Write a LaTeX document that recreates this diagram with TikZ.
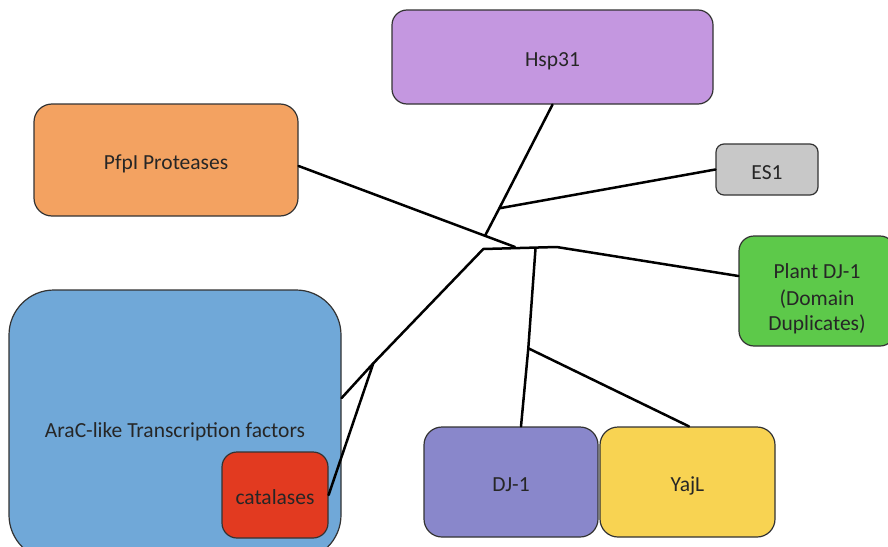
\documentclass[tikz,border=0pt]{standalone}
\usepackage{fontspec}
\setmainfont{Carlito}
\begin{document}
\begin{tikzpicture}[x=1pt,y=-1pt,
  box/.style={draw=black!80, line width=1.2pt, rectangle, inner sep=0pt,
    font=\fontsize{21.5}{25.5}\selectfont, text=black!85, align=center,
    text height=19.5pt, text depth=0pt},
  branch/.style={draw=black, line width=2.5pt, line cap=round, line join=round}]
\useasboundingbox (0,0) rectangle (888,546);
\clip (0,0) rectangle (888,546);
\fill[white] (0,0) rectangle (888,546);

% clade boxes
\node[box, fill={rgb,255:red,196;green,151;blue,224}, rounded corners=15pt,
  minimum width=321pt, minimum height=94pt] (hsp) at (552.5,57) {Hsp31};
\node[box, fill={rgb,255:red,243;green,162;blue,97}, rounded corners=18pt,
  minimum width=264pt, minimum height=112pt] (pfpi) at (166,160) {PfpI Proteases};
\node[box, fill={rgb,255:red,200;green,200;blue,200}, rounded corners=8pt,
  minimum width=102pt, minimum height=51pt] (es) at (767,169.5) {ES1};
\node[box, fill={rgb,255:red,93;green,201;blue,74}, rounded corners=15pt,
  minimum width=156pt, minimum height=110pt, text height=19.5pt, text depth=0pt,
  font=\fontsize{21.5}{25.5}\selectfont] (plant) at (817,291)
  {\raisebox{-4pt}{\begin{tabular}{@{}c@{}}Plant DJ-1\\[1.5pt](Domain\\Duplicates)\end{tabular}}};
\node[box, fill={rgb,255:red,112;green,168;blue,216}, rounded corners=45pt,
  minimum width=332pt, minimum height=270pt] (arac) at (175,425) {};
\node[font=\fontsize{21.5}{25.5}\selectfont, text=black!85, inner sep=0pt,
  text height=19.5pt, text depth=0pt] (aractext) at (175,428)
  {AraC-like Transcription factors};
\node[box, fill={rgb,255:red,226;green,58;blue,32}, rounded corners=15pt,
  minimum width=106pt, minimum height=86pt] (cat) at (275,495) {catalases};
\node[box, fill={rgb,255:red,137;green,135;blue,203}, rounded corners=18pt,
  minimum width=174pt, minimum height=110pt] (dj) at (511,482) {DJ-1};
\node[box, fill={rgb,255:red,248;green,211;blue,82}, rounded corners=18pt,
  minimum width=175pt, minimum height=110pt] (yajl) at (687.5,482) {YajL};

% internal nodes of the tree
\coordinate (jhsp) at (485,235.8);
\coordinate (jes) at (499.3,208.3);
\coordinate (jpf) at (515,247);
\coordinate (jl) at (483.3,249);
\coordinate (jdj) at (535.5,248.5);
\coordinate (jr) at (556.7,247);
\coordinate (jyaj) at (528.3,348.3);
\coordinate (jara) at (373.3,363.3);

% branches
\draw[branch] (hsp.south) -- (jes) -- (jhsp);
\draw[branch] (jes) -- (es.west);
\draw[branch] ([yshift=-6pt]pfpi.east) -- (jhsp) -- (jpf);
\draw[branch] (jara) -- (jl) -- (jr) -- ([yshift=15pt]plant.west);
\draw[branch] (jdj) -- (jyaj) -- ([xshift=10pt]dj.north);
\draw[branch] (jyaj) -- ([xshift=1.5pt]yajl.north);
\draw[branch] ([yshift=27pt]arac.east) -- (jara) -- (cat.east);
\end{tikzpicture}
\end{document}
